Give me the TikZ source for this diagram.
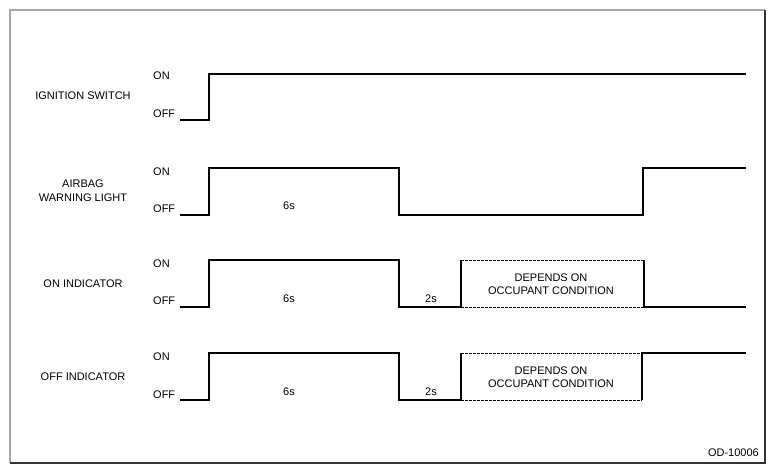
\documentclass[tikz,border=0pt]{standalone}
\usepackage{fontspec}
\setmainfont{Liberation Sans}
\usetikzlibrary{positioning}
\tikzset{
  lbl/.style={font=\fontsize{11}{13.5}\selectfont, inner sep=0pt, align=center},
  lvl/.style={lbl, anchor=west},
  wave/.style={line width=1.4pt, black},
  pend/.style={line width=0.9pt, black, dash pattern=on 2.5pt off 1.5pt}
}
\tikzstyle{frametop} = [line width=2pt, black!35]
\tikzstyle{framebot} = [line width=1.6pt, black!80]

\begin{document}
\begin{tikzpicture}[x=1pt,y=-1pt]
    \useasboundingbox (0,0) rectangle (772,472);
    \fill[white] (0,0) rectangle (772,472);
    \draw [frametop] (10,463) -- (10,10) -- (765,10);
    \draw [framebot] (765,10) -- (765,463) -- (10,463);

    % signal names
    \node [lbl] (ign) at (83,96)  {IGNITION SWITCH};
    \node [lbl] (air) at (83,190.5) {AIRBAG\\WARNING LIGHT};
    \node [lbl] (oni) at (83,284) {ON INDICATOR};
    \node [lbl] (offi) at (83,377) {OFF INDICATOR};

    % levels
    \node [lvl] (ignon)   at (153,76)  {ON};
    \node [lvl] (ignoff)  at (153,114) {OFF};
    \node [lvl] (airon)   at (153,172) {ON};
    \node [lvl] (airoff)  at (153,209) {OFF};
    \node [lvl] (onion)   at (153,264) {ON};
    \node [lvl] (onioff)  at (153,301) {OFF};
    \node [lvl] (offion)  at (153,357) {ON};
    \node [lvl] (offioff) at (153,395) {OFF};

    % waveforms
    \draw [wave] (180,120) -- (209,120) -- (209,74) -- (746,74);
    \draw [wave] (180,215) -- (209,215) -- (209,168) -- (399,168) -- (399,215) -- (643,215) -- (643,168) -- (746,168);
    \draw [wave] (180,307) -- (209,307) -- (209,260) -- (399,260) -- (399,307) -- (461,307) -- (461,260);
    \draw [pend] (461,260) -- (644,260);
    \draw [pend] (461,307) -- (644,307);
    \draw [wave] (644,260) -- (644,307) -- (746,307);
    \draw [wave] (180,400) -- (209,400) -- (209,353) -- (399,353) -- (399,400) -- (461,400) -- (461,353);
    \draw [pend] (461,353) -- (642,353);
    \draw [pend] (461,400) -- (642,400);
    \draw [wave] (642,400) -- (642,353) -- (746,353);

    % times
    \node [lbl] (t6a) at (289,206) {6s};
    \node [lbl] (t6b) at (289,299) {6s};
    \node [lbl] (t6c) at (289,392) {6s};
    \node [lbl] (t2a) at (431,299) {2s};
    \node [lbl] (t2b) at (431,392) {2s};
    \node [lbl] (dep1) at (551,284) {DEPENDS ON\\OCCUPANT CONDITION};
    \node [lbl] (dep2) at (551,377) {DEPENDS ON\\OCCUPANT CONDITION};

    \node [lbl, anchor=east] (code) at (759,453) {OD-10006};
\end{tikzpicture}
\end{document}
